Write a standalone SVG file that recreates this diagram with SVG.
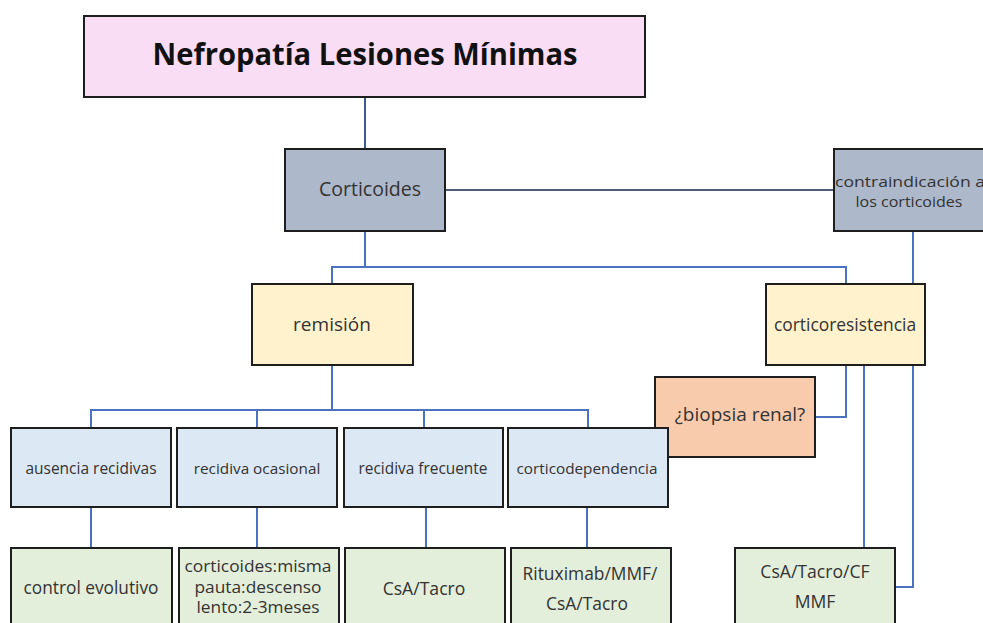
<svg xmlns="http://www.w3.org/2000/svg" width="983" height="623" viewBox="0 0 983 623">
<style>
.box{stroke:#1e1e1e;stroke-width:2}
.t{font-family:"Open Sans","Liberation Sans",sans-serif;fill:#333;text-anchor:middle}
.c{fill:none;stroke:#4a72c0;stroke-width:2}
.l3{fill:#dde8f5}
.l4{fill:#e3eedb}
</style>
<rect width="983" height="623" fill="#fff"/>
<g id="connectors">
<path class="c" d="M365,97V149" style="stroke:#3f5b8e"/>
<path class="c" d="M445,190H834" style="stroke:#4e5c74"/>
<path class="c" d="M365,231V267M332,284V267H846V284"/>
<path class="c" d="M913,231V284"/>
<path class="c" d="M332,365V410M91,428V410H588V428M257,410V428M424,410V428"/>
<path class="c" d="M91,507V548M257,507V548M426,507V548M587,507V548"/>
<path class="c" d="M846,365V417H815"/>
<path class="c" d="M864,365V548"/>
<path class="c" d="M913,365V587H895"/>
</g>
<g id="n-title">
<rect class="box" x="84" y="16" width="561" height="81" fill="#f9ddf4"/>
<text class="t" x="365" y="65" style="font-size:30px;font-weight:bold;fill:#111" textLength="425" lengthAdjust="spacingAndGlyphs">Nefropatía Lesiones Mínimas</text>
</g>
<g id="n-corticoides">
<rect class="box" x="285" y="149" width="160" height="82" fill="#adb8ca"/>
<text class="t" x="370" y="196" style="font-size:19.5px">Corticoides</text>
</g>
<g id="n-contraindicacion">
<rect class="box" x="834" y="149" width="160" height="82" fill="#adb8ca"/>
<text class="t" style="font-size:15px"><tspan x="910" y="187" textLength="150" lengthAdjust="spacingAndGlyphs">contraindicación a</tspan><tspan x="909" y="207" textLength="107" lengthAdjust="spacingAndGlyphs">los corticoides</tspan></text>
</g>
<g id="n-remision">
<rect class="box" x="252" y="284" width="161" height="81" fill="#fff2cc"/>
<text class="t" x="332" y="331" style="font-size:19px">remisión</text>
</g>
<g id="n-corticoresistencia">
<rect class="box" x="766" y="284" width="159" height="81" fill="#fff2cc"/>
<text class="t" x="845" y="331" style="font-size:17.4px">corticoresistencia</text>
</g>
<g id="n-biopsia">
<rect class="box" x="655" y="377" width="160" height="80" fill="#f8cbad"/>
<text class="t" x="740" y="421" style="font-size:19px">¿biopsia renal?</text>
</g>
<g id="n-ausencia">
<rect class="box l3" x="11" y="428" width="160" height="79"/>
<text class="t" x="91" y="474" style="font-size:15.5px">ausencia recidivas</text>
</g>
<g id="n-ocasional">
<rect class="box l3" x="177" y="428" width="160" height="79"/>
<text class="t" x="257" y="474" style="font-size:15.3px">recidiva ocasional</text>
</g>
<g id="n-frecuente">
<rect class="box l3" x="344" y="428" width="159" height="79"/>
<text class="t" x="423" y="474" style="font-size:15.4px">recidiva frecuente</text>
</g>
<g id="n-corticodependencia">
<rect class="box l3" x="508" y="428" width="160" height="79"/>
<text class="t" x="587" y="474" style="font-size:15.3px">corticodependencia</text>
</g>
<g id="n-control">
<rect class="box l4" x="11" y="548" width="161" height="90"/>
<text class="t" x="91" y="594" style="font-size:17.3px">control evolutivo</text>
</g>
<g id="n-corticoides-pauta">
<rect class="box l4" x="179" y="548" width="160" height="90"/>
<text class="t" style="font-size:16px"><tspan x="258" y="572" textLength="147" lengthAdjust="spacingAndGlyphs">corticoides:misma</tspan><tspan x="258" y="593" textLength="127" lengthAdjust="spacingAndGlyphs">pauta:descenso</tspan><tspan x="258" y="613" textLength="123" lengthAdjust="spacingAndGlyphs">lento:2-3meses</tspan></text>
</g>
<g id="n-csa-tacro">
<rect class="box l4" x="345" y="548" width="160" height="90"/>
<text class="t" x="424" y="595" style="font-size:17.6px">CsA/Tacro</text>
</g>
<g id="n-rituximab">
<rect class="box l4" x="511" y="548" width="160" height="90"/>
<text class="t" style="font-size:17.4px"><tspan x="590" y="580">Rituximab/MMF/</tspan><tspan x="587" y="610">CsA/Tacro</tspan></text>
</g>
<g id="n-csa-tacro-cf">
<rect class="box l4" x="735" y="548" width="160" height="90"/>
<text class="t" style="font-size:17.6px"><tspan x="815" y="578">CsA/Tacro/CF</tspan><tspan x="815" y="608">MMF</tspan></text>
</g>
</svg>
